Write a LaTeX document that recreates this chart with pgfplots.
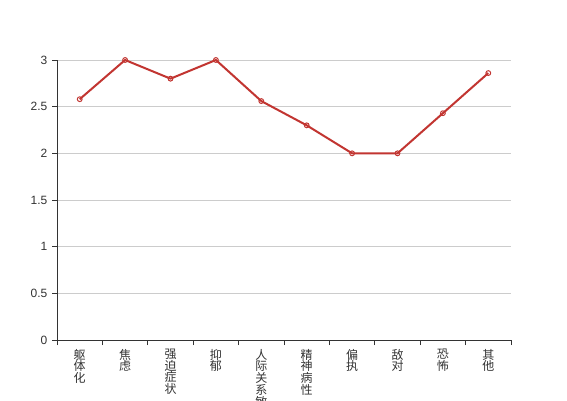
\documentclass[border=0pt]{standalone}
\usepackage{fontspec}
\setmainfont{Liberation Sans}
\newfontfamily\cjk{Noto Sans CJK SC}
\usepackage{pgfplots}
\pgfplotsset{compat=1.18}
\definecolor{ecred}{HTML}{C23531}
\definecolor{axisgray}{HTML}{333333}
\definecolor{gridgray}{HTML}{CCCCCC}

\begin{document}
\begin{tikzpicture}
\path[use as bounding box, clip] (0,0) rectangle (425.25pt,300pt);
\fill[white] (0,0) rectangle (425.25pt,300pt);
\begin{axis}[
    at={(42.75pt,45pt)}, anchor=south west,
    scale only axis,
    width=340.5pt, height=210pt,
    xmin=-0.5, xmax=9.5,
    ymin=0, ymax=3,
    axis x line=bottom, axis y line=left,
    axis line style={-, draw=axisgray, line width=0.75pt},
    xtick={0,...,9},
    xticklabels={{躯\\体\\化},{焦\\虑},{强\\迫\\症\\状},{抑\\郁},{人\\际\\关\\系\\敏\\感},{精\\神\\病\\性},{偏\\执},{敌\\对},{恐\\怖},{其\\他}},
    minor xtick={-0.5,0.5,...,9.5},
    ytick={0,0.5,...,3},
    yticklabels={0,0.5,1,1.5,2,2.5,3},
    tick align=outside,
    major tick length=3.75pt,
    minor tick length=3.75pt,
    x tick style={draw=none},
    minor x tick style={draw=axisgray, line width=0.75pt},
    y tick style={draw=axisgray, line width=0.75pt},
    xticklabel style={align=center, anchor=north, font=\cjk\fontsize{9}{8.8}\selectfont, text=axisgray, yshift=0.5pt},
    yticklabel style={font=\fontsize{9}{9}\selectfont, text=axisgray},
    ymajorgrids,
    grid style={draw=gridgray, line width=0.75pt},
    clip=false,
]
\addplot[ecred, line width=1.5pt, mark=o, mark size=1.8pt,
    mark options={fill=white, line width=0.75pt}]
    coordinates {(0,2.58) (1,3) (2,2.8) (3,3) (4,2.56) (5,2.3) (6,2) (7,2) (8,2.43) (9,2.86)};
\end{axis}
\end{tikzpicture}
\end{document}
